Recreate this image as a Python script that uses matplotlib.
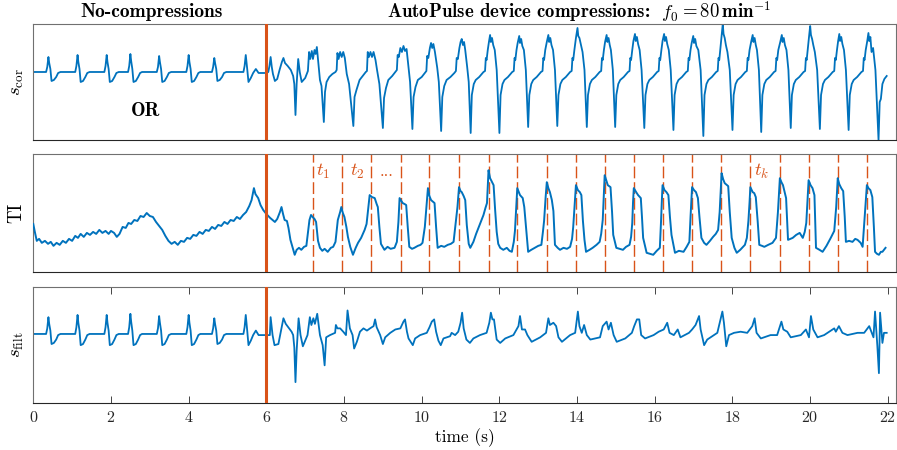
import numpy as np
import matplotlib
matplotlib.use("Agg")
import matplotlib.pyplot as plt
from matplotlib.transforms import blended_transform_factory

# colours (MATLAB defaults)
BLUE = '#0072BD'
ORANGE = '#D95319'

# ---------------------------------------------------------------
# Data (time in s, amplitude in arbitrary units)
# ---------------------------------------------------------------

# ECG segment without compressions (identical in s_cor and s_filt)
ecg_nocomp = [
    (0.00, 0), (0.20, 0), (0.33, 0), (0.36, 5), (0.39, 15), (0.41, 9), (0.44, 3), (0.47, -9),
    (0.53, -8), (0.59, -5), (0.64, -1), (0.70, 0), (0.95, 0), (1.08, 0), (1.11, 6), (1.14, 17),
    (1.16, 10), (1.19, 3), (1.22, -10), (1.28, -9), (1.34, -5), (1.39, -1), (1.45, 0), (1.70, 0),
    (1.83, 0), (1.86, 6), (1.89, 17), (1.91, 10), (1.94, 3), (1.97, -10), (2.03, -9), (2.09, -5),
    (2.14, -1), (2.20, 0), (2.44, 0), (2.47, 6), (2.50, 18), (2.52, 11), (2.55, 3), (2.58, -10),
    (2.64, -9), (2.70, -5), (2.75, -1), (2.80, 0), (3.05, 0), (3.18, 0), (3.21, 5), (3.24, 16),
    (3.26, 10), (3.29, 3), (3.32, -10), (3.38, -9), (3.44, -5), (3.49, -1), (3.55, 0), (3.80, 0),
    (3.94, 0), (3.97, 6), (4.00, 17), (4.02, 10), (4.05, 3), (4.08, -10), (4.14, -9), (4.20, -5),
    (4.25, -1), (4.30, 0), (4.60, 0), (4.63, 5), (4.66, 14), (4.68, 9), (4.71, 3), (4.74, -9),
    (4.80, -8), (4.86, -5), (4.91, -1), (4.97, 0), (5.25, 0), (5.41, 0), (5.44, 6), (5.47, 17),
    (5.49, 10), (5.51, 2), (5.54, -10), (5.60, -6), (5.66, -1), (5.73, 3), (5.80, -1), (6.00, -1),
]

# s_cor during AutoPulse compressions
cor_comp = [
    (6.05, 0), (6.08, 6), (6.11, 15), (6.14, 5), (6.17, -2), (6.22, -9), (6.28, -7), (6.34, 2),
    (6.40, 10), (6.44, 14), (6.48, 9), (6.55, 6), (6.63, 2), (6.69, -4), (6.72, -12), (6.75, -43),
    (6.78, -12), (6.82, 13), (6.86, 0), (6.91, -10), (7.00, -6), (7.07, 1), (7.10, 20), (7.13, 13),
    (7.17, 21), (7.20, 13), (7.24, 22), (7.27, 18), (7.30, 25), (7.34, 8), (7.38, -8), (7.42, -14),
    (7.48, -50), (7.51, -20), (7.55, -10), (7.62, -5), (7.70, -2), (7.78, 0), (7.81, 2), (7.83, 19),
    (7.86, 13), (7.90, 20), (7.94, 15), (7.98, 20), (8.02, 14), (8.07, -2), (8.13, -12), (8.24, -54),
    (8.27, -25), (8.32, -18), (8.40, -8), (8.48, -4), (8.56, 0), (8.59, 1), (8.61, 20), (8.64, 15),
    (8.68, 20), (8.72, 15), (8.76, 20), (8.81, 12), (8.85, 2), (8.91, -12), (9.00, -56),
    (9.03, -26), (9.08, -16), (9.14, -8), (9.24, -4), (9.32, 0), (9.36, 2), (9.38, 17), (9.41, 15),
    (9.45, 24), (9.49, 20), (9.53, 26), (9.57, 21), (9.61, 23), (9.66, 5), (9.70, -10), (9.76, -57),
    (9.79, -25), (9.84, -15), (9.90, -8), (10.00, -5), (10.08, -1), (10.12, 1), (10.14, 16),
    (10.17, 14), (10.21, 24), (10.24, 29), (10.27, 24), (10.30, 28), (10.34, 20), (10.40, 4),
    (10.44, -10), (10.50, -59),
    (10.53, -25), (10.58, -14), (10.64, -8), (10.74, -5), (10.84, -1), (10.88, 1), (10.90, 14),
    (10.93, 13), (10.97, 24), (11.00, 30), (11.03, 33), (11.06, 27), (11.09, 30), (11.12, 22),
    (11.17, 5), (11.21, -10), (11.26, -61),
    (11.29, -23), (11.34, -12), (11.39, -8), (11.48, -5), (11.59, 0), (11.63, 1), (11.65, 14),
    (11.67, 12), (11.70, 22), (11.73, 30), (11.76, 37), (11.78, 30), (11.81, 34), (11.84, 27),
    (11.88, 22), (11.93, 2), (12.00, -61),
    (12.03, -23), (12.08, -12), (12.13, -8), (12.22, -5), (12.33, 0), (12.37, 1), (12.39, 14),
    (12.41, 12), (12.44, 22), (12.47, 29), (12.51, 36), (12.53, 29), (12.56, 33), (12.59, 26),
    (12.63, 22), (12.68, 2), (12.74, -55),
    (12.77, -23), (12.82, -12), (12.87, -8), (12.96, -5), (13.07, 0), (13.11, 1), (13.13, 14),
    (13.15, 12), (13.18, 22), (13.22, 30), (13.26, 37), (13.28, 30), (13.31, 34), (13.34, 27),
    (13.38, 22), (13.43, 2), (13.49, -54),
    (13.52, -23), (13.57, -12), (13.62, -8), (13.71, -5), (13.82, 0), (13.86, 1), (13.88, 14),
    (13.90, 12), (13.93, 22), (13.97, 34), (14.01, 44), (14.03, 36), (14.06, 34), (14.10, 27),
    (14.14, 20), (14.19, 2), (14.25, -55),
    (14.28, -23), (14.33, -12), (14.38, -8), (14.47, -5), (14.58, 0), (14.62, 1), (14.64, 14),
    (14.66, 12), (14.69, 22), (14.72, 30), (14.76, 37), (14.78, 30), (14.81, 34), (14.84, 27),
    (14.87, 22), (14.92, 2), (14.98, -55),
    (15.01, -23), (15.06, -12), (15.11, -8), (15.20, -5), (15.31, 0), (15.35, 1), (15.37, 14),
    (15.39, 12), (15.42, 22), (15.45, 31), (15.49, 38), (15.51, 31), (15.54, 35), (15.57, 28),
    (15.61, 22), (15.66, 2), (15.73, -56),
    (15.76, -23), (15.81, -12), (15.86, -8), (15.95, -5), (16.06, 0), (16.10, 1), (16.12, 14),
    (16.14, 12), (16.17, 22), (16.20, 31), (16.24, 38), (16.26, 31), (16.29, 35), (16.32, 28),
    (16.36, 22), (16.41, 2), (16.48, -58),
    (16.51, -23), (16.56, -12), (16.61, -8), (16.70, -5), (16.81, 0), (16.85, 1), (16.87, 14),
    (16.89, 12), (16.92, 22), (16.95, 29), (16.99, 36), (17.01, 29), (17.04, 33), (17.07, 26),
    (17.12, 22), (17.18, 2), (17.25, -64),
    (17.28, -23), (17.33, -12), (17.38, -8), (17.47, -5), (17.58, 0), (17.62, 1), (17.64, 14),
    (17.66, 12), (17.69, 24), (17.72, 36), (17.75, 48), (17.77, 38), (17.80, 34), (17.83, 27),
    (17.87, 20), (17.93, 2), (18.00, -58),
    (18.03, -23), (18.08, -12), (18.13, -8), (18.22, -5), (18.33, 0), (18.37, 1), (18.39, 14),
    (18.41, 12), (18.44, 22), (18.48, 30), (18.52, 37), (18.54, 30), (18.57, 34), (18.60, 27),
    (18.63, 22), (18.68, 2), (18.74, -60),
    (18.77, -23), (18.82, -12), (18.87, -8), (18.96, -5), (19.07, 0), (19.11, 1), (19.13, 14),
    (19.15, 12), (19.18, 22), (19.23, 30), (19.27, 37), (19.29, 30), (19.32, 34), (19.35, 27),
    (19.39, 22), (19.44, 2), (19.50, -56),
    (19.53, -23), (19.58, -12), (19.63, -8), (19.72, -5), (19.83, 0), (19.87, 1), (19.89, 14),
    (19.91, 12), (19.94, 24), (19.97, 35), (20.00, 46), (20.02, 37), (20.05, 33), (20.08, 27),
    (20.12, 20), (20.18, 2), (20.25, -57),
    (20.28, -23), (20.33, -12), (20.38, -8), (20.47, -5), (20.58, 0), (20.62, 1), (20.64, 14),
    (20.66, 12), (20.69, 22), (20.72, 31), (20.75, 38), (20.77, 31), (20.80, 35), (20.83, 28),
    (20.87, 22), (20.92, 2), (20.99, -58),
    (21.02, -23), (21.07, -12), (21.12, -8), (21.21, -5), (21.32, 0), (21.36, 1), (21.38, 14),
    (21.40, 12), (21.43, 22), (21.47, 31), (21.50, 39), (21.52, 31), (21.55, 35), (21.58, 20),
    (21.62, 24), (21.68, 2), (21.76, -68),
    (21.79, -30), (21.82, -27), (21.86, -12), (21.91, -7), (21.97, -4),
]

# thoracic impedance, no compressions
ti_nocomp = [
    (0.00, 48), (0.04, 40), (0.09, 31), (0.15, 33), (0.22, 29), (0.30, 31), (0.38, 28), (0.45, 30),
    (0.52, 26), (0.60, 29), (0.68, 27), (0.76, 31), (0.84, 29), (0.92, 33), (1.00, 31), (1.08, 36),
    (1.15, 34), (1.22, 38), (1.30, 35), (1.38, 39), (1.46, 37), (1.54, 40), (1.62, 38), (1.70, 42),
    (1.78, 39), (1.86, 41), (1.94, 38), (2.00, 41), (2.08, 39), (2.15, 35), (2.22, 38), (2.30, 45),
    (2.38, 44), (2.45, 49), (2.52, 48), (2.60, 52), (2.68, 51), (2.76, 56), (2.84, 55), (2.92, 59),
    (3.00, 56), (3.08, 55), (3.16, 50), (3.24, 46), (3.32, 42), (3.40, 36), (3.48, 31), (3.56, 28),
    (3.64, 30), (3.72, 27), (3.80, 31), (3.88, 30), (3.96, 34), (4.04, 33), (4.12, 37), (4.20, 36),
    (4.28, 40), (4.36, 38), (4.44, 42), (4.52, 41), (4.60, 45), (4.68, 43), (4.76, 47), (4.84, 46),
    (4.92, 50), (5.00, 48), (5.08, 52), (5.16, 51), (5.24, 55), (5.32, 53), (5.40, 57), (5.48, 60),
    (5.56, 66), (5.62, 72), (5.68, 84), (5.72, 78), (5.79, 74), (5.85, 67), (5.92, 62), (6.00, 58),
]

# thoracic impedance during compressions
ti_comp = [
    (6.05, 56), (6.10, 54), (6.16, 52), (6.22, 50), (6.28, 53), (6.35, 60), (6.39, 65), (6.43, 58),
    (6.47, 52), (6.53, 51), (6.57, 44), (6.62, 32), (6.68, 24), (6.73, 17), (6.78, 22), (6.84, 24),
    (6.90, 22), (6.97, 25), (7.03, 26), (7.07, 39), (7.11, 52), (7.15, 57), (7.19, 55), (7.24, 53),
    (7.28, 50), (7.33, 31), (7.38, 24), (7.44, 21), (7.50, 23), (7.58, 20), (7.66, 24), (7.72, 25),
    (7.78, 30), (7.84, 52), (7.90, 60), (7.93, 65), (7.97, 59), (8.01, 55), (8.06, 45), (8.10, 35),
    (8.16, 25), (8.23, 17), (8.30, 24), (8.36, 29), (8.44, 34), (8.53, 42), (8.58, 48), (8.62, 62),
    (8.66, 77), (8.72, 75), (8.79, 74), (8.84, 68), (8.87, 65), (8.91, 45), (8.95, 28), (9.04, 22),
    (9.12, 25), (9.20, 23), (9.30, 24), (9.36, 30), (9.40, 50), (9.43, 74), (9.48, 71), (9.51, 69),
    (9.56, 68), (9.60, 67), (9.64, 45), (9.68, 25), (9.75, 23), (9.81, 24), (9.90, 26), (9.97, 27),
    (10.02, 29), (10.08, 45), (10.12, 65), (10.16, 84), (10.20, 76), (10.24, 72), (10.30, 70),
    (10.33, 69), (10.37, 45), (10.41, 24), (10.50, 26), (10.58, 25), (10.67, 27), (10.75, 28),
    (10.82, 30), (10.87, 48), (10.92, 65), (10.96, 85), (11.00, 81), (11.03, 80), (11.08, 76),
    (11.12, 72), (11.16, 47), (11.21, 28), (11.25, 24), (11.33, 30), (11.40, 38), (11.46, 44),
    (11.52, 50), (11.59, 57), (11.64, 64), (11.68, 69), (11.70, 85), (11.72, 102), (11.76, 94),
    (11.81, 90), (11.85, 87), (11.89, 62), (11.93, 40), (11.97, 28), (12.02, 24), (12.10, 22),
    (12.19, 24), (12.26, 21), (12.32, 20), (12.37, 30), (12.40, 41), (12.44, 70), (12.46, 84),
    (12.50, 80), (12.53, 77), (12.60, 74), (12.64, 65), (12.68, 47), (12.74, 20), (12.82, 22),
    (12.91, 24), (13.00, 26), (13.08, 27), (13.12, 40), (13.15, 51), (13.19, 75), (13.22, 90),
    (13.26, 84), (13.30, 80), (13.35, 72), (13.39, 61), (13.43, 27), (13.50, 24), (13.56, 22),
    (13.65, 24), (13.74, 23), (13.82, 25), (13.87, 33), (13.90, 45), (13.94, 70), (13.97, 87),
    (14.02, 82), (14.07, 80), (14.11, 77), (14.15, 51), (14.19, 32), (14.23, 20), (14.32, 22),
    (14.40, 24), (14.50, 27), (14.58, 30), (14.62, 38), (14.66, 52), (14.69, 80), (14.71, 97),
    (14.75, 92), (14.79, 87), (14.86, 85), (14.90, 60), (14.93, 37), (15.01, 24), (15.10, 23),
    (15.18, 22), (15.26, 25), (15.35, 27), (15.39, 35), (15.42, 49), (15.44, 70), (15.46, 84),
    (15.52, 80), (15.57, 77), (15.64, 74), (15.67, 55), (15.70, 34), (15.79, 19), (15.88, 18),
    (15.96, 17), (16.05, 21), (16.13, 24), (16.16, 50), (16.18, 70), (16.20, 87), (16.25, 82),
    (16.30, 80), (16.35, 77), (16.39, 55), (16.43, 37), (16.52, 19), (16.62, 21), (16.74, 20),
    (16.82, 25), (16.89, 30), (16.92, 55), (16.96, 85), (17.01, 82), (17.06, 80), (17.11, 74),
    (17.15, 55), (17.20, 34), (17.27, 29), (17.33, 27), (17.42, 31), (17.50, 35), (17.57, 38),
    (17.63, 42), (17.67, 60), (17.72, 99), (17.76, 93), (17.80, 89), (17.89, 86), (17.93, 60),
    (17.98, 34), (18.05, 24), (18.11, 19), (18.20, 22), (18.32, 27), (18.37, 34), (18.41, 51),
    (18.44, 70), (18.46, 85), (18.52, 80), (18.56, 79), (18.60, 75), (18.65, 50), (18.69, 27),
    (18.76, 26), (18.82, 25), (18.92, 27), (19.03, 29), (19.12, 34), (19.17, 60), (19.22, 94),
    (19.26, 90), (19.30, 87), (19.38, 74), (19.41, 50), (19.43, 32), (19.49, 33), (19.55, 34),
    (19.64, 37), (19.73, 39), (19.81, 34), (19.86, 40), (19.90, 49), (19.93, 70), (19.96, 92),
    (20.01, 87), (20.06, 84), (20.11, 77), (20.13, 50), (20.15, 24), (20.24, 22), (20.32, 20),
    (20.42, 26), (20.53, 34), (20.62, 41), (20.67, 65), (20.71, 94), (20.75, 88), (20.80, 84),
    (20.85, 81), (20.89, 55), (20.92, 30), (21.00, 31), (21.09, 30), (21.16, 33), (21.22, 32),
    (21.30, 29), (21.35, 25), (21.39, 47), (21.43, 70), (21.46, 87), (21.50, 84), (21.55, 82),
    (21.60, 75), (21.64, 45), (21.67, 20), (21.72, 18), (21.77, 17), (21.82, 20), (21.86, 20),
    (21.90, 22), (21.94, 24),
]

# s_filt during compressions
filt_comp = [
    (6.05, -1), (6.09, -1), (6.11, 15), (6.16, -1), (6.21, -10), (6.31, -9), (6.44, 14), (6.50, 9),
    (6.65, 2), (6.69, -1), (6.72, -12), (6.75, -43), (6.78, -15), (6.83, 14), (6.88, -1),
    (6.94, -11), (7.06, -1), (7.12, 15), (7.16, 8), (7.21, 14), (7.25, 9), (7.31, 18), (7.38, -1),
    (7.45, -10), (7.50, -28), (7.54, -3), (7.64, -1), (7.77, 1), (7.79, 8), (7.83, 5), (7.90, 5),
    (7.98, 2), (8.05, -1), (8.09, 21), (8.15, 5), (8.22, -1), (8.26, -13), (8.33, -7), (8.41, 2),
    (8.50, 5), (8.59, 3), (8.67, 5), (8.76, 7), (8.80, 13), (8.84, 6), (8.93, -1), (9.00, -9),
    (9.06, -3), (9.19, 1), (9.32, 4), (9.45, 5), (9.53, 11), (9.57, 13), (9.62, 2), (9.66, -4),
    (9.77, -10), (9.83, -4), (9.96, -1), (10.13, 1), (10.20, 6), (10.26, 11), (10.32, 13),
    (10.37, 2), (10.43, -6), (10.49, -10), (10.56, -4), (10.73, -2), (10.77, 1), (10.86, -1),
    (10.94, 2), (11.00, 10), (11.04, 19), (11.08, 5), (11.15, -5), (11.24, -8), (11.33, -4),
    (11.50, -1), (11.67, 1), (11.74, 10), (11.78, 19), (11.82, 13), (11.86, 13), (11.93, -5),
    (12.02, -8), (12.15, -4), (12.36, -1), (12.49, 7), (12.53, 16), (12.58, 4), (12.66, 4),
    (12.72, -1), (12.83, -7), (13.05, -3), (13.20, 1), (13.26, 14), (13.30, 8), (13.39, 10),
    (13.46, 7), (13.52, -3), (13.61, -7), (13.82, -1), (13.95, 1), (14.02, 20), (14.06, 7),
    (14.12, 1), (14.18, 8), (14.25, -1), (14.34, -5), (14.59, -3), (14.66, 7), (14.76, 11),
    (14.81, 4), (14.87, 10), (14.94, -1), (15.02, -7), (15.24, -4), (15.41, 1), (15.47, 7),
    (15.54, 13), (15.60, 13), (15.65, -1), (15.75, -4), (15.97, -1), (16.10, 2), (16.23, 4),
    (16.32, 10), (16.38, 1), (16.49, -1), (16.59, 4), (16.66, -3), (16.88, 1), (16.96, 4),
    (17.05, 8), (17.14, 16), (17.18, 4), (17.27, -10), (17.35, -5), (17.61, 1), (17.74, 20),
    (17.78, 10), (17.84, -11), (17.91, -1), (18.04, 1), (18.21, 2), (18.38, 1), (18.51, 7),
    (18.57, 14), (18.62, 1), (18.73, -4), (18.98, -1), (19.15, -1), (19.26, 11), (19.31, 4),
    (19.41, 2), (19.50, -3), (19.76, -1), (19.89, 4), (19.97, -3), (20.02, 16), (20.08, 4),
    (20.19, -3), (20.36, -1), (20.62, 5), (20.66, 2), (20.74, 7), (20.83, 1), (20.96, -1),
    (21.22, 1), (21.39, 1), (21.52, 7), (21.63, -3), (21.67, 20), (21.73, -11), (21.77, -35),
    (21.80, 19), (21.86, -8), (21.90, 1), (21.97, 1),
]

# compression instants marked in the TI panel
compression_times = [7.19, 7.96, 8.70, 9.46, 10.20, 10.96, 11.72, 12.46, 13.22, 13.97,
                     14.71, 15.46, 16.20, 16.96, 17.71, 18.46, 19.22, 19.96, 20.71, 21.46]
interval_labels = [(7.47, r'$t_1$'), (8.33, r'$t_2$'), (18.75, r'$t_k$')]
ellipsis_pos = 9.10

onset_time = 6.0
xticks = list(range(0, 23, 2))
title_left = 'No-compressions'
title_right = r'AutoPulse device compressions:  $f_0 = 80\,\mathbf{min}^{-1}$'


def _xy(*segments):
    pts = np.array([p for seg in segments for p in seg], dtype=float)
    return pts[:, 0], pts[:, 1]


plt.rcParams['font.family'] = 'cmr10'
plt.rcParams['mathtext.fontset'] = 'cm'
plt.rcParams['axes.formatter.use_mathtext'] = True

fig = plt.figure(figsize=(8.97, 4.5), dpi=100)
left, width = 0.0371, 0.9618
ax1 = fig.add_axes([left, 0.6889, width, 0.2578])
ax2 = fig.add_axes([left, 0.3962, width, 0.2609])
ax3 = fig.add_axes([left, 0.1038, width, 0.2591])

t, v = _xy(ecg_nocomp, cor_comp)
ax1.plot(t, v, color=BLUE, lw=1.3)
ax1.set_ylim(-68, 48)

t, v = _xy(ti_nocomp, ti_comp)
ax2.plot(t, v, color=BLUE, lw=1.4, zorder=3)
ax2.set_ylim(0, 118)
for ct in compression_times:
    ax2.axvline(ct, color=ORANGE, lw=1.0, ls=(0, (8.5, 2.8)), zorder=2)
for lx, txt in interval_labels:
    ax2.text(lx, 96, txt, color=ORANGE, fontsize=13.5, ha='center', va='baseline')
ax2.text(ellipsis_pos, 96, '...', color=ORANGE, fontsize=12, ha='center', va='baseline')

t, v = _xy(ecg_nocomp, filt_comp)
ax3.plot(t, v, color=BLUE, lw=1.3)
ax3.set_ylim(-61.9, 42.2)

for ax, lab in [(ax1, r'$s_{\mathrm{cor}}$'), (ax2, 'TI'), (ax3, r'$s_{\mathrm{filt}}$')]:
    ax.set_xlim(0, 22.21)
    ax.axvline(onset_time, color=ORANGE, lw=2.2, zorder=4)
    ax.set_yticks([])
    ax.set_ylabel(lab, fontsize=13.5)
    ax.yaxis.set_label_coords(-0.009, 0.5)
    for s in ax.spines.values():
        s.set_color('#707070')
        s.set_linewidth(0.8)
    ax.spines['bottom'].set_color('#262626')

for ax in (ax1, ax2):
    ax.set_xticks([])

ax3.set_xticks(xticks)
ax3.tick_params(axis='x', direction='in', top=True, length=5, width=0.6,
                labelsize=11.5, pad=5, colors='#262626')
ax3.set_xlabel('time (s)', fontsize=12.5, labelpad=2)

tr = blended_transform_factory(ax1.transData, ax1.transAxes)
ax1.text(3.05, 1.105, title_left, transform=tr, family='cmb10', fontsize=14,
         ha='center', va='center')
ax1.text(14.05, 1.105, title_right, transform=tr, family='cmb10', fontsize=13.5,
         ha='center', va='center')
ax1.text(2.9, -39, 'OR', family='cmb10', fontsize=14, ha='center', va='center')

fig.savefig('out.png', dpi=100)
